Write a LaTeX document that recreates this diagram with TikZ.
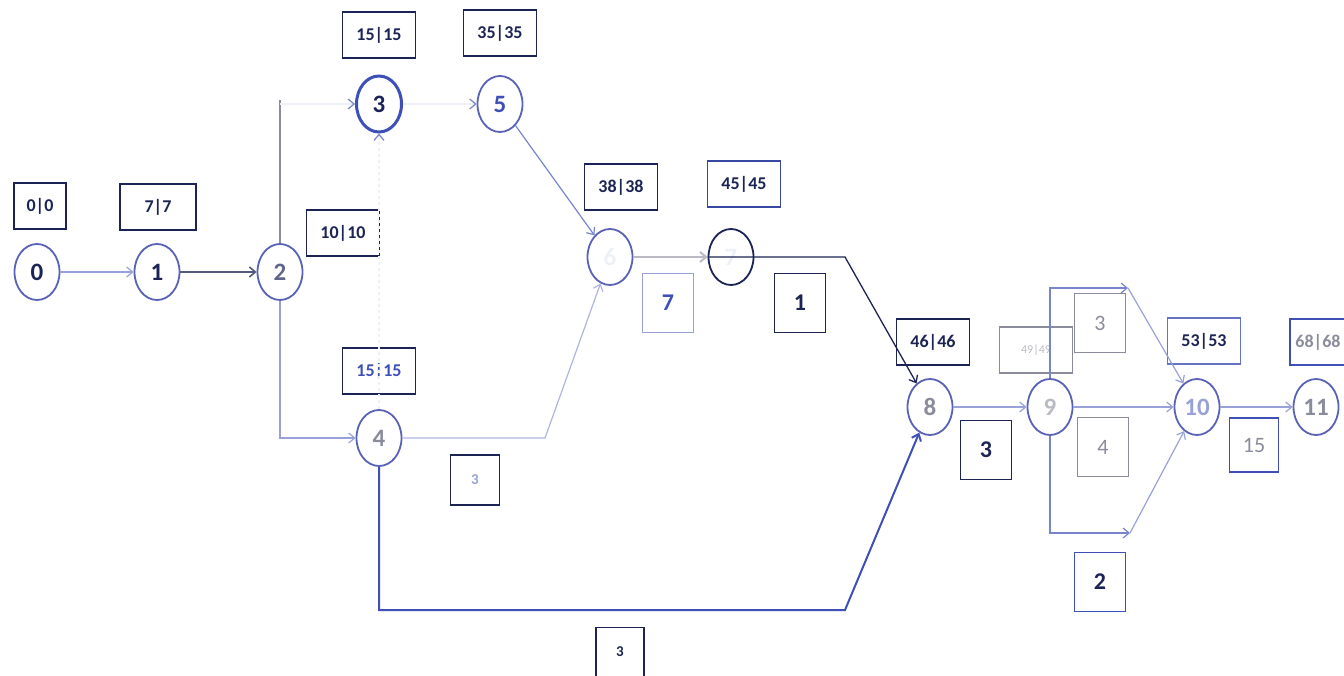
\documentclass[tikz,border=0pt]{standalone}
\usepackage{fontspec}
\setmainfont{Carlito}
\usetikzlibrary{arrows.meta,positioning,shapes.geometric}
\definecolor{pnNavy}{HTML}{1C2456}
\definecolor{pnRing}{HTML}{5A62B6}
\definecolor{pnBlue}{HTML}{3E50B8}
\definecolor{pnLine}{HTML}{98A2D8}
\definecolor{pnGrey}{HTML}{8A8C9C}
\definecolor{pnFaint}{HTML}{EEF0F8}

\begin{document}
\begin{tikzpicture}[x=1pt,y=-1pt,
      ev/.style={ellipse,draw=pnRing,line width=1.8pt,minimum width=45pt,
                 minimum height=56pt,inner sep=0pt,
                 font=\fontsize{25}{27}\selectfont\bfseries},
      tb/.style={draw=pnNavy,line width=1.6pt,minimum width=73pt,
                 minimum height=46pt,inner sep=0pt,text=pnNavy,
                 font=\fontsize{18}{20}\selectfont\bfseries},
      db/.style={draw=pnNavy,line width=1.6pt,minimum width=51pt,
                 minimum height=59pt,inner sep=0pt,text=pnNavy,
                 font=\fontsize{24}{26}\selectfont\bfseries},
      ar/.style={-{Straight Barb[length=6pt,width=10pt]},line width=1.2pt},
      arf/.style={-{Straight Barb[length=6pt,width=10pt,color=pnBlue!70]},
                  line width=1.2pt,pnFaint}]
    \useasboundingbox (0,0) rectangle (1344,676);

    % events
    \node[ev,text=pnNavy]   (n0)  at (37,272)   {0};
    \node[ev,text=pnNavy]   (n1)  at (157,272)  {1};
    \node[ev,text=pnNavy!70](n2)  at (280,272)  {2};
    \node[ev,draw=pnBlue,line width=3pt,text=pnNavy] (n3) at (379,104) {3};
    \node[ev,text=pnBlue]   (n5)  at (500,104)  {5};
    \node[ev,text=pnGrey]   (n4)  at (379,438)  {4};
    \node[ev,text=pnFaint]  (n6)  at (610,257)  {6};
    \node[ev,draw=pnNavy,text=pnFaint] (n7) at (731,257) {7};
    \node[ev,text=pnGrey]   (n8)  at (930,407)  {8};
    \node[ev,text=pnGrey!60](n9)  at (1050,407) {9};
    \node[ev,text=pnLine]   (n10) at (1197,407) {10};
    \node[ev,text=pnGrey]   (n11) at (1316,407) {11};

    % event times
    \node[tb,minimum width=52pt] (t0) at (40,206)  {0|0};
    \node[tb,minimum width=76pt] (t1) at (158,207) {7|7};
    \node[tb] (t2)  at (343,233)  {10|10};
    \node[tb] (t3)  at (379,35)   {15|15};
    \node[tb] (t5)  at (500,33)   {35|35};
    \node[tb,text=pnBlue] (t4) at (379,371) {15|15};
    \node[tb] (t6)  at (621,187)  {38|38};
    \node[tb,draw=pnBlue!80!pnNavy] (t7) at (744,184) {45|45};
    \node[tb] (t8)  at (933,342)  {46|46};
    \node[tb,draw=pnGrey,text=pnGrey!60,font=\fontsize{12}{14}\selectfont]
      (t9) at (1036,350) {49|49};
    \node[tb,draw=pnBlue!80] (t10) at (1204,341) {53|53};
    \node[tb,draw=pnBlue,text=pnGrey,minimum width=56pt] (t11) at (1318,342) {68|68};

    % durations
    \node[db,draw=pnLine,text=pnBlue] (d67) at (668,303) {7};
    \node[db] (d78) at (800,303) {1};
    \node[db,minimum width=49pt,minimum height=50pt,text=pnLine,
          font=\fontsize{15}{17}\selectfont\bfseries] (d46) at (475,480) {3};
    \node[db,minimum width=48pt,minimum height=49pt,
          font=\fontsize{15}{17}\selectfont\bfseries] (d48) at (620,652) {3};
    \node[db] (d89) at (986,450) {3};
    \node[db,draw=pnGrey,text=pnGrey,font=\fontsize{22}{24}\selectfont]
      (d9a) at (1100,323) {3};
    \node[db,draw=pnGrey,text=pnGrey,font=\fontsize{22}{24}\selectfont]
      (d9b) at (1103,447) {4};
    \node[db,draw=pnBlue] (d9c) at (1100,582) {2};
    \node[db,draw=pnBlue,text=pnGrey,font=\fontsize{22}{24}\selectfont,
          minimum width=49pt,minimum height=54pt] (d1011) at (1254,445) {15};

    % bends
    \coordinate (c23) at (280,100);
    \coordinate (c46) at (545,438);
    \coordinate (c78) at (845,257);
    \coordinate (c48) at (845,610);
    \coordinate (c9a) at (1128,288);
    \coordinate (c9c) at (1130,533);

    % activities
    \draw[ar,pnLine] (n0) -- (n1);
    \draw[ar,pnNavy!75,line width=1.6pt] (n1) -- (n2);
    \draw[pnGrey,line width=1.2pt] (n2) -- (c23);
    \draw[arf] (c23 |- n3) -- (n3);
    \draw[arf] (n3) -- (n5);
    \draw[arf,dashed] (n4) -- (n3);
    \draw[ar,pnLine] (n2) |- (n4);
    \draw[ar,pnBlue!70] (n5) -- (n6);
    \draw[ar,pnLine!80] (n4) -- (c46) -- (n6);
    \draw[ar,pnGrey!60,line width=2pt] (n6) -- (n7);
    \draw[ar,pnNavy,line width=1.3pt] (n7.west) -- (c78) -- (n8);
    \draw[ar,pnBlue,line width=2pt] (n4) |- (c48) -- (n8);
    \draw[ar,pnLine] (n8) -- (n9);
    \draw[ar,pnBlue!70] (n9) |- (c9a);
    \draw[ar,pnLine] (c9a) -- (n10);
    \draw[ar,pnLine] (n9) -- (n10);
    \draw[ar,pnBlue!70] (n9) |- (c9c);
    \draw[ar,pnLine] (c9c) -- (n10);
    \draw[ar,pnLine] (n10) -- (n11);
  \end{tikzpicture}
\end{document}
